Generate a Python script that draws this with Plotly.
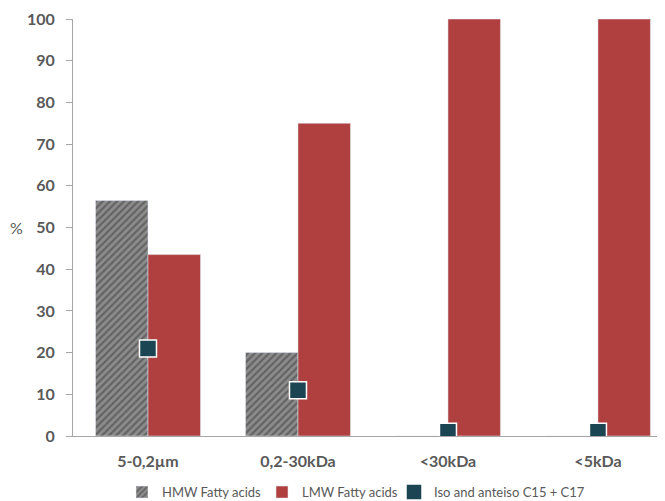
import plotly.graph_objects as go

categories = ["5-0,2µm", "0,2-30kDa", "<30kDa", "<5kDa"]
hmw = [56.5, 20, 0, 0]
lmw = [43.5, 75, 100, 100]
iso = [21, 11, 1, 1]
y_ticks = [0, 10, 20, 30, 40, 50, 60, 70, 80, 90, 100]

grey = "#595959"

fig = go.Figure()
fig.add_trace(go.Bar(
    x=categories, y=hmw, name="HMW Fatty acids", legend="legend",
    marker=dict(color="#8c8c8c",
                pattern=dict(shape="/", fgcolor="#3a3a3a", bgcolor="#8c8c8c",
                             size=5, solidity=0.45)),
))
fig.add_trace(go.Bar(
    x=categories, y=lmw, name="LMW Fatty acids", legend="legend2",
    marker=dict(color="#b04040"),
))
fig.add_trace(go.Scatter(
    x=categories, y=iso, name="Iso and anteiso C15 + C17", mode="markers",
    legend="legend3",
    marker=dict(symbol="square", size=17, color="#1b4552",
                line=dict(color="white", width=1.5)),
))

# one legend per entry so the entries sit where the original has them
def leg(px):
    return dict(orientation="h", x=(px - 8) / 657, xanchor="left",
                xref="container", yref="container", y=0.018, yanchor="middle",
                bgcolor="rgba(0,0,0,0)",
                font=dict(size=13, color=grey), itemwidth=30)

# the page body adds an 8px margin, so the figure is a bit smaller
fig.update_layout(
    width=657, height=493,
    margin=dict(l=65, r=0, t=11, b=65),
    plot_bgcolor="white", paper_bgcolor="white",
    barmode="group", bargap=0.3, bargroupgap=0,
    font=dict(family="Lato", color=grey, size=14),
    legend=leg(122), legend2=leg(262), legend3=leg(394),
    showlegend=True,
)
fig.update_xaxes(
    range=[-0.5, 3.447], showline=True, linecolor="#a6a6a6", linewidth=1,
    ticks="", tickfont=dict(size=16, weight="bold", color=grey),
    showgrid=False, automargin=False, ticklabelstandoff=11,
)
fig.update_yaxes(
    range=[0, 100], tickvals=y_ticks, showline=True, linecolor="#a6a6a6",
    linewidth=1, ticks="outside", ticklen=6, tickcolor="#a6a6a6",
    tickfont=dict(size=16, weight="bold", color=grey), showgrid=False,
    zeroline=False, ticklabelstandoff=8, automargin=False,
)
fig.add_annotation(
    text="%", xref="paper", yref="paper", x=-0.095, y=0.5, showarrow=False,
    font=dict(size=16, color=grey), xanchor="center",
)

fig.write_html("out.html")
